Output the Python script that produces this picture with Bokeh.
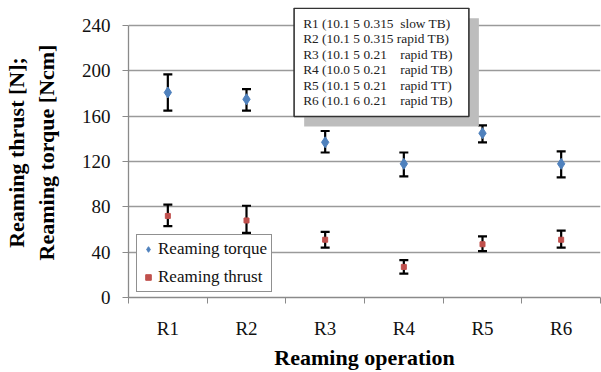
from bokeh.plotting import figure
from bokeh.models import (ColumnDataSource, Whisker, TeeHead, FixedTicker, Legend,
                          LegendItem, Range1d)
from bokeh.core.properties import value
from bokeh.embed import file_html
from bokeh.resources import INLINE

# Reaming operations and measured means with error limits
operations = ["R1", "R2", "R3", "R4", "R5", "R6"]
torque = [181, 175, 137, 118, 145, 118]
torque_low = [165, 165, 128, 107, 137, 106]
torque_high = [197, 184, 147, 128, 152, 129]
thrust = [72, 68, 51, 27, 47, 51]
thrust_low = [63, 57, 44, 21, 41, 44]
thrust_high = [82, 81, 58, 33, 54, 59]
y_ticks = [0, 40, 80, 120, 160, 200, 240]

# Parameter key for each operation (non-breaking spaces keep the column gaps)
NB = "\u00a0"
key_lines = [
    "R1 (10.1 5 0.315" + NB * 2 + "slow TB)",
    "R2 (10.1 5 0.315 rapid TB)",
    "R3 (10.1 5 0.21" + NB * 4 + "rapid TB)",
    "R4 (10.0 5 0.21" + NB * 4 + "rapid TB)",
    "R5 (10.1 5 0.21" + NB * 4 + "rapid TT)",
    "R6 (10.1 6 0.21" + NB * 4 + "rapid TB)",
]

SERIF = "Times New Roman"
GRID = "#9a9a9a"

xpos = [i + 0.5 for i in range(len(operations))]
src = ColumnDataSource(dict(x=xpos, torque=torque, tlo=torque_low, thi=torque_high,
                            thrust=thrust, slo=thrust_low, shi=thrust_high))

p = figure(width=601, height=372, output_backend="svg", toolbar_location=None,
           x_range=Range1d(0, 6), y_range=Range1d(0, 256),
           min_border_left=127, min_border_right=1, min_border_top=7,
           min_border_bottom=75)
p.outline_line_color = None
p.background_fill_color = "white"
p.border_fill_color = "white"

# axes
p.yaxis.ticker = FixedTicker(ticks=y_ticks)
p.yaxis.bounds = (0, 240)
p.xaxis.ticker = FixedTicker(ticks=xpos, minor_ticks=list(range(7)))
p.xaxis.major_label_overrides = {x: lab for x, lab in zip(xpos, operations)}
for ax in (p.xaxis, p.yaxis):
    ax.axis_line_color = "#8a8a8a"
    ax.axis_line_width = 1.3
    ax.major_label_text_font = SERIF
    ax.major_label_text_font_size = "19px"
    ax.major_label_text_color = "#111111"
    ax.axis_label_text_font = SERIF
    ax.axis_label_text_font_style = "bold"
    ax.axis_label_text_font_size = "22px"
    ax.axis_label_text_color = "black"
p.yaxis.major_tick_line_color = "#8a8a8a"
p.yaxis.major_tick_out = 6
p.yaxis.major_tick_in = 0
p.yaxis.minor_tick_line_color = None
p.yaxis.major_label_standoff = 12
p.yaxis.axis_label = "Reaming thrust [N];\nReaming torque [Ncm]"
p.yaxis.axis_label_standoff = 20
p.xaxis.major_tick_line_color = None
p.xaxis.minor_tick_line_color = "#8a8a8a"
p.xaxis.minor_tick_out = 6
p.xaxis.minor_tick_in = 0
p.xaxis.major_label_standoff = 14
p.xaxis.axis_label = "Reaming operation"
p.xaxis.axis_label_standoff = 3

p.xgrid.grid_line_color = None
p.ygrid.ticker = FixedTicker(ticks=y_ticks)
p.ygrid.grid_line_color = GRID
p.ygrid.grid_line_width = 1.3

# error bars
for lo, hi in (("tlo", "thi"), ("slo", "shi")):
    w = Whisker(base="x", lower=lo, upper=hi, source=src, dimension="height",
                line_color="black", line_width=2.2,
                upper_head=TeeHead(size=9, line_width=2.2, line_color="black"),
                lower_head=TeeHead(size=9, line_width=2.2, line_color="black"))
    p.add_layout(w)

r_torque = p.scatter("x", "torque", source=src, marker="diamond", size=11,
                     fill_color="#4f81bd", line_color="#4f81bd")
r_thrust = p.scatter("x", "thrust", source=src, marker="square", size=5,
                     fill_color="#c0504d", line_color="#c0504d")

legend = Legend(items=[LegendItem(label="Reaming torque", renderers=[r_torque]),
                       LegendItem(label="Reaming thrust", renderers=[r_thrust])],
                location=(8, 5), border_line_color="#222222", border_line_width=1.6,
                label_text_font=SERIF, label_text_font_size="17px",
                label_text_color="#111111",
                glyph_width=14, glyph_height=16, label_height=20, spacing=8,
                padding=4, margin=0, label_standoff=3, background_fill_alpha=1)
p.add_layout(legend, "center")

# parameter key box with drop shadow
p.quad(left=[2.233], right=[4.454], bottom=[151], top=[246.5],
       fill_color="#bdbdbd", line_color=None)
p.quad(left=[2.105], right=[4.327], bottom=[159.8], top=[255.3],
       fill_color="white", line_color="#333333", line_width=1.6)
key_y = [242 - 13.7 * i for i in range(len(key_lines))]
p.text(x=[2.22] * len(key_lines), y=key_y, text=key_lines,
       text_font=value(SERIF), text_font_size="13.4px", text_color="#222222",
       text_baseline="middle", text_align="left")

open("out.html", "w").write(file_html(p, INLINE))
